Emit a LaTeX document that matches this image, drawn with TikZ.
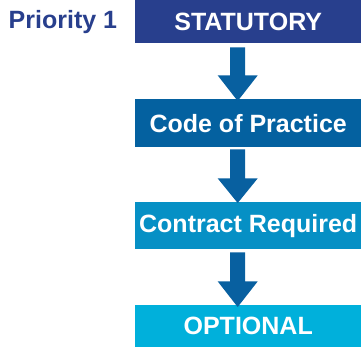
\documentclass[tikz,border=0pt]{standalone}
\usepackage{fontspec}
\setmainfont{Liberation Sans}
\usetikzlibrary{calc}
\definecolor{cA}{HTML}{283F8D}
\definecolor{cB}{HTML}{0461A0}
\definecolor{cC}{HTML}{0690C5}
\definecolor{cD}{HTML}{00B0DB}
\definecolor{cArr}{HTML}{0860A0}
\tikzset{
  box/.style={rectangle, inner sep=0pt, minimum width=226pt, text=white, font=\fontsize{25}{29}\selectfont\bfseries, anchor=north west},
  flowarrow/.style={fill=cArr, draw=none}
}
\begin{document}
\begin{tikzpicture}[x=1pt,y=1pt]
\useasboundingbox (0,0) rectangle (361,-347);
\node[box, fill=cA, minimum height=43pt] (s) at (135,0) {STATUTORY};
\node[box, fill=cB, minimum height=48pt] (c) at (135,-99) {Code of Practice};
\node[box, fill=cC, minimum height=47pt] (r) at (135,-202) {Contract Required};
\node[box, fill=cD, minimum height=42pt] (o) at (135,-305) {OPTIONAL};
\node[anchor=base west, inner sep=0pt, text=cA, font=\fontsize{25}{29}\selectfont\bfseries] (p) at (8.5,-29) {Priority 1};
\fill[flowarrow] ($(s.south)+(-18pt,-4pt)$) -- ($(s.south)+(-3pt,-4pt)$)
    -- ($(s.south)+(-3pt,-32pt)$) -- ($(s.south)+(9.5pt,-32pt)$)
    -- ($(c.north)+(-10.5pt,-2pt)$)
    -- ($(s.south)+(-30.5pt,-32pt)$) -- ($(s.south)+(-18pt,-32pt)$) -- cycle;
\fill[flowarrow] ($(c.south)+(-18pt,-2pt)$) -- ($(c.south)+(-3pt,-2pt)$)
    -- ($(c.south)+(-3pt,-31pt)$) -- ($(c.south)+(9.5pt,-31pt)$)
    -- ($(r.north)+(-10.5pt,-1pt)$)
    -- ($(c.south)+(-30.5pt,-31pt)$) -- ($(c.south)+(-18pt,-31pt)$) -- cycle;
\fill[flowarrow] ($(r.south)+(-18pt,-3pt)$) -- ($(r.south)+(-3pt,-3pt)$)
    -- ($(r.south)+(-3pt,-32pt)$) -- ($(r.south)+(9.5pt,-32pt)$)
    -- ($(o.north)+(-10.5pt,-2pt)$)
    -- ($(r.south)+(-30.5pt,-32pt)$) -- ($(r.south)+(-18pt,-32pt)$) -- cycle;
\end{tikzpicture}
\end{document}
